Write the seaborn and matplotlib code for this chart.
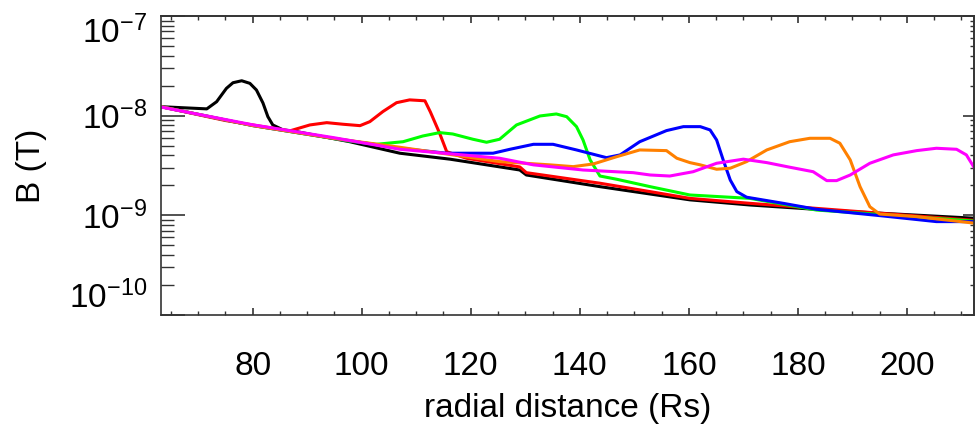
import numpy as np
import pandas as pd
import matplotlib
matplotlib.use("Agg")
import matplotlib.pyplot as plt
import matplotlib.ticker as mticker
import seaborn as sns

# ---- data (radial distance in Rs, B in Tesla) ----
black_r = [63.2, 71.6, 73.4, 75.2, 76.4, 78.0, 79.5, 80.7, 81.9, 82.8, 83.7, 85.6, 87.4, 97.8,
           107.0, 116.2, 129.0, 130.2, 143.7, 160.2, 171.2, 189.6, 212.4]
black_b = [1.23e-8, 1.17e-8, 1.38e-8, 1.88e-8, 2.14e-8, 2.24e-8, 2.11e-8, 1.81e-8, 1.34e-8, 9.77e-9,
           8.07e-9, 7.19e-9, 7.03e-9, 5.48e-9, 4.20e-9, 3.66e-9, 2.85e-9, 2.54e-9, 1.94e-9, 1.43e-9,
           1.27e-9, 1.09e-9, 9.35e-10]

red_r = [63.2, 75.0, 86.8, 90.5, 93.6, 96.6, 99.7, 101.5, 103.9, 106.4, 108.8, 111.6, 112.6, 114.3,
         115.6, 119.2, 129.0, 130.2, 143.7, 152.9, 160.2, 171.2, 212.4]
red_b = [1.23e-8, 8.94e-9, 7.03e-9, 8.07e-9, 8.51e-9, 8.20e-9, 7.94e-9, 8.71e-9, 1.10e-8, 1.35e-8,
         1.44e-8, 1.41e-8, 1.09e-8, 6.66e-9, 4.35e-9, 3.74e-9, 3.06e-9, 2.68e-9, 2.10e-9, 1.73e-9,
         1.48e-9, 1.32e-9, 8.90e-10]

green_r = [63.2, 80.0, 97.8, 102.7, 107.6, 111.2, 114.3, 116.7, 120.4, 122.9, 125.3, 128.4, 132.7,
           135.7, 137.6, 139.4, 140.6, 141.9, 143.7, 146.8, 152.9, 160.2, 171.2, 183.4, 212.4]
green_b = [1.23e-8, 7.96e-9, 5.55e-9, 5.16e-9, 5.48e-9, 6.25e-9, 6.76e-9, 6.55e-9, 5.80e-9, 5.41e-9,
           5.80e-9, 8.07e-9, 9.93e-9, 1.04e-8, 9.77e-9, 7.76e-9, 5.70e-9, 3.60e-9, 2.48e-9, 2.30e-9,
           1.94e-9, 1.60e-9, 1.48e-9, 1.13e-9, 8.75e-10]

blue_r = [63.2, 80.0, 95.0, 107.0, 115.6, 124.1, 127.2, 131.5, 135.1, 139.4, 144.9, 147.4, 151.0,
          155.9, 159.0, 162.1, 163.9, 165.1, 166.3, 167.6, 168.8, 170.6, 177.3, 183.4, 195.6, 205.4, 212.4]
blue_b = [1.23e-8, 7.96e-9, 5.90e-9, 4.71e-9, 4.20e-9, 4.20e-9, 4.60e-9, 5.16e-9, 5.16e-9, 4.53e-9,
          3.79e-9, 4.04e-9, 5.48e-9, 7.08e-9, 7.76e-9, 7.76e-9, 7.19e-9, 5.70e-9, 3.60e-9, 2.26e-9,
          1.73e-9, 1.52e-9, 1.32e-9, 1.15e-9, 9.86e-10, 8.65e-10, 8.65e-10]

orange_r = [63.2, 80.0, 95.0, 107.0, 125.3, 134.5, 138.8, 142.5, 146.8, 151.0, 155.9, 157.8, 160.2,
            162.1, 165.1, 167.6, 170.6, 174.3, 178.5, 182.2, 185.9, 187.7, 189.6, 191.4, 193.2,
            195.0, 201.8, 212.4]
orange_b = [1.23e-8, 7.96e-9, 5.90e-9, 4.82e-9, 3.46e-9, 3.21e-9, 3.08e-9, 3.28e-9, 3.88e-9, 4.53e-9,
            4.46e-9, 3.74e-9, 3.38e-9, 3.21e-9, 2.90e-9, 2.97e-9, 3.46e-9, 4.53e-9, 5.48e-9, 5.93e-9,
            5.93e-9, 5.29e-9, 3.60e-9, 1.94e-9, 1.22e-9, 1.03e-9, 9.70e-10, 8.34e-10]

magenta_r = [63.2, 80.0, 95.0, 107.0, 125.3, 131.5, 140.6, 149.8, 152.9, 156.5, 160.8, 165.1, 170.0,
             174.3, 178.5, 182.8, 185.3, 187.1, 189.6, 193.2, 197.5, 201.8, 205.4, 209.1, 210.9, 212.4]
magenta_b = [1.22e-8, 8.10e-9, 6.00e-9, 4.60e-9, 3.74e-9, 3.21e-9, 2.85e-9, 2.68e-9, 2.54e-9, 2.48e-9,
             2.74e-9, 3.33e-9, 3.66e-9, 3.38e-9, 3.04e-9, 2.74e-9, 2.23e-9, 2.23e-9, 2.54e-9, 3.33e-9,
             4.04e-9, 4.46e-9, 4.71e-9, 4.60e-9, 4.04e-9, 2.97e-9]

x_ticks = [80, 100, 120, 140, 160, 180, 200]
y_ticks = [1e-10, 1e-9, 1e-8, 1e-7]

series = [
    ("black", black_r, black_b, "#000000"),
    ("red", red_r, red_b, "#ff0000"),
    ("green", green_r, green_b, "#00ff00"),
    ("blue", blue_r, blue_b, "#0000ff"),
    ("orange", orange_r, orange_b, "#ff8000"),
    ("magenta", magenta_r, magenta_b, "#ff00ff"),
]

sns.set_theme(style="ticks")
plt.rcParams["font.family"] = ["Liberation Sans", "DejaVu Sans"]
plt.rcParams["mathtext.fontset"] = "custom"
plt.rcParams["mathtext.rm"] = "Liberation Sans"

fig = plt.figure(figsize=(9.75, 4.25), dpi=100)
ax = fig.add_axes([161 / 975, 1 - 315 / 425, (974 - 161) / 975, (315 - 16) / 425])

for name, r, b, c in series:
    df = pd.DataFrame({"r": r, "B": b})
    sns.lineplot(data=df, x="r", y="B", ax=ax, color=c, linewidth=2.2,
                 estimator=None, sort=False, legend=False)

ax.set_yscale("log")
ax.set_xlim(63.2, 212.3)
ax.set_ylim(1e-10, 1e-7)
ax.set_xticks(x_ticks)
ax.set_yticks(y_ticks)
ax.xaxis.set_minor_locator(mticker.MultipleLocator(5))
ax.yaxis.set_minor_locator(mticker.LogLocator(base=10, subs=np.arange(2, 10)))
ax.yaxis.set_minor_formatter(mticker.NullFormatter())

for s in ax.spines.values():
    s.set_color("#333333")
    s.set_linewidth(1.2)

ax.tick_params(axis="x", which="both", bottom=True, top=False)
ax.tick_params(axis="y", which="both", left=True, right=False)
ax.tick_params(axis="x", which="major", direction="in", length=5, width=1.2,
               color="#333333", labelsize=24, pad=26, labelcolor="black")
ax.tick_params(axis="x", which="minor", direction="in", length=3, width=1.0, color="#333333")
ax.tick_params(axis="y", which="major", direction="in", length=17, width=1.2,
               color="#333333", labelsize=24, pad=10, labelcolor="black")
ax.tick_params(axis="y", which="minor", direction="in", length=9, width=1.0, color="#333333")

# mirrored ticks
secx = ax.secondary_xaxis("top")
secx.set_xticks(x_ticks)
secx.xaxis.set_minor_locator(mticker.MultipleLocator(5))
secx.tick_params(axis="x", which="both", top=True, labeltop=False)
secx.tick_params(axis="x", which="major", direction="in", length=5, width=1.2, color="#333333")
secx.tick_params(axis="x", which="minor", direction="in", length=3, width=1.0, color="#333333")
secx.spines["top"].set_color("#333333")
secx.spines["top"].set_linewidth(1.2)

secy = ax.secondary_yaxis("right")
secy.set_yticks(y_ticks)
secy.yaxis.set_minor_locator(mticker.LogLocator(base=10, subs=np.arange(2, 10)))
secy.yaxis.set_minor_formatter(mticker.NullFormatter())
secy.tick_params(axis="y", which="both", right=True, labelright=False)
secy.tick_params(axis="y", which="major", direction="in", length=8, width=1.2, color="#333333")
secy.tick_params(axis="y", which="minor", direction="in", length=3, width=1.0, color="#333333")
secy.spines["right"].set_color("#333333")
secy.spines["right"].set_linewidth(1.2)

ax.set_xlabel("radial distance (Rs)", fontsize=24, color="black")
ax.xaxis.set_label_coords(0.5, -0.262)
ax.set_ylabel("B (T)", fontsize=24, labelpad=16, color="black")

# keep the end labels inside the axis span like the original
fig.canvas.draw()
ylabels = ax.get_yticklabels()
ylabels[0].set_verticalalignment("bottom")
ylabels[-1].set_verticalalignment("top")

fig.savefig("out.png", dpi=100)
